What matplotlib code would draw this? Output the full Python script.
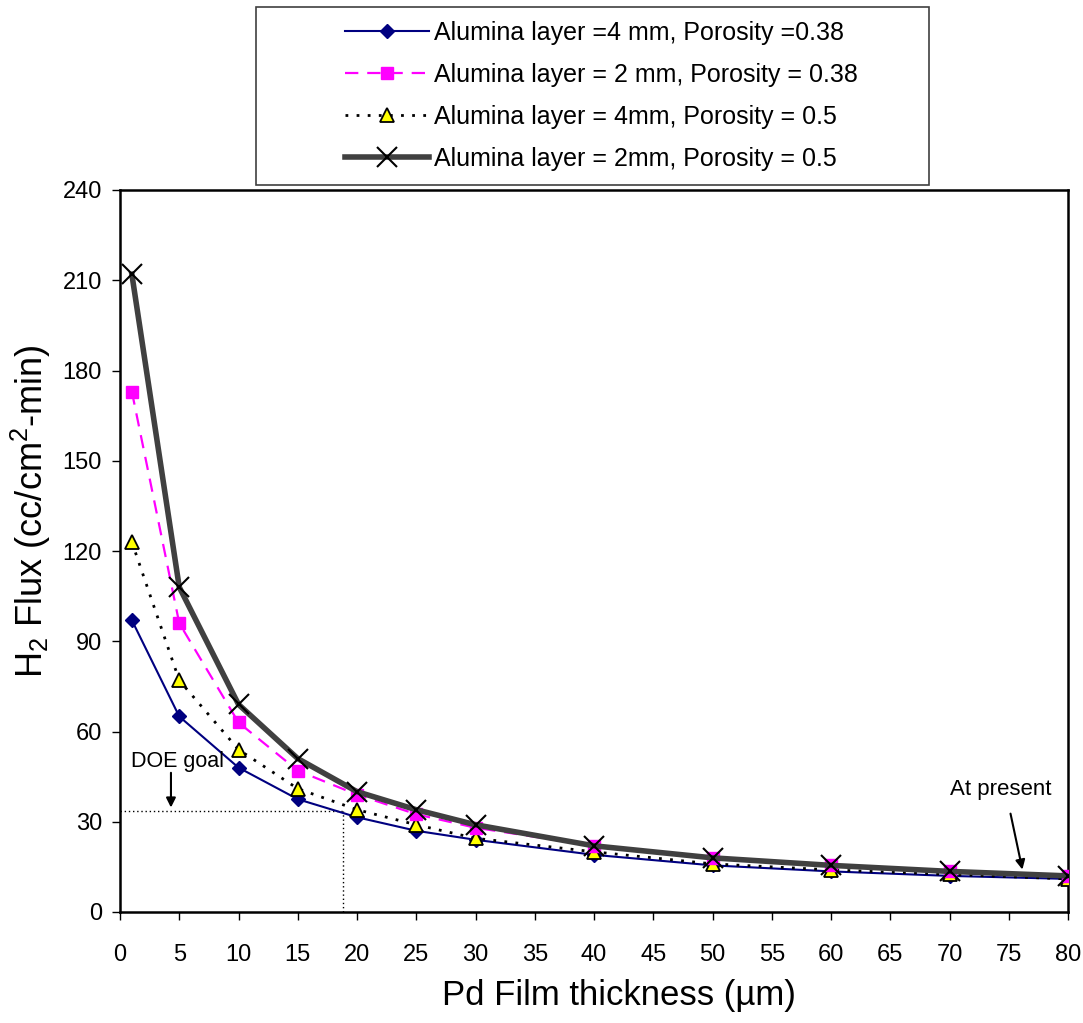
import matplotlib
matplotlib.use('Agg')
import matplotlib.pyplot as plt
from matplotlib.patches import Rectangle
from matplotlib.ticker import MultipleLocator

plt.rcParams['font.family'] = ['Liberation Sans', 'DejaVu Sans']
plt.rcParams['mathtext.default'] = 'regular'

# Pd film thickness (um)
thickness = [1, 5, 10, 15, 20, 25, 30, 40, 50, 60, 70, 80]

# H2 flux (cc/cm2-min)
flux_4mm_038 = [97, 65, 48, 37.5, 31.5, 27, 24, 19, 15.5, 13.5, 12, 11]
flux_2mm_038 = [173, 96, 63, 47, 39, 32.5, 28, 22, 18, 15.5, 13.5, 12]
flux_4mm_05 = [123, 77, 54, 41, 34, 29, 24.5, 20, 16, 14, 12.5, 11]
flux_2mm_05 = [212, 108, 69, 51, 40, 34, 29, 22, 18, 15.5, 13.5, 12]

labels = ['Alumina layer =4 mm, Porosity =0.38',
          'Alumina layer = 2 mm, Porosity = 0.38',
          'Alumina layer = 4mm, Porosity = 0.5',
          'Alumina layer = 2mm, Porosity = 0.5']

doe_goal = 33.6
doe_thick = 18.8

W, H = 1083, 1023
fig = plt.figure(figsize=(W/100, H/100), dpi=100)
ax = fig.add_axes([120/W, 1-912/H, 948/W, 722/H])

h1, = ax.plot(thickness, flux_4mm_038, color='#000080', lw=1.5, marker='D',
              ms=7, mfc='#000080', mec='#000080', label=labels[0], zorder=3)
h2, = ax.plot(thickness, flux_2mm_038, color='#ff00ff', lw=1.6, ls=(0, (6, 4)),
              marker='s', ms=9, mfc='#ff00ff', mec='#ff00ff', label=labels[1], zorder=4)
h3, = ax.plot(thickness, flux_4mm_05, color='black', lw=2, ls=(0, (1, 3)),
              marker='^', ms=10, mfc='#ffff00', mec='black', mew=1.3,
              label=labels[2], zorder=3.5)
h4, = ax.plot(thickness, flux_2mm_05, color='#404040', lw=4, marker='x', ms=15,
              mec='black', mew=1.5, label=labels[3], zorder=5)

# DOE goal guide lines
ax.plot([0, doe_thick], [doe_goal, doe_goal], color='black', lw=1, ls=(0, (1, 2)), zorder=2)
ax.plot([doe_thick, doe_thick], [0, doe_goal], color='black', lw=1, ls=(0, (1, 2)), zorder=2)
ax.text(0.9, 50.0, 'DOE goal', fontsize=15.5, va='center', ha='left')
ax.annotate('', xy=(4.3, 33.8), xytext=(4.3, 47.2),
            arrowprops=dict(arrowstyle='-|>', color='black', lw=1.5, mutation_scale=14))
ax.text(74.3, 40.6, 'At present', fontsize=16, va='center', ha='center')
ax.annotate('', xy=(76.2, 13.2), xytext=(75.1, 33.6),
            arrowprops=dict(arrowstyle='-|>', color='black', lw=1.5, mutation_scale=14))

ax.set_xlim(0, 80)
ax.set_ylim(0, 240)
ax.xaxis.set_major_locator(MultipleLocator(5))
ax.yaxis.set_major_locator(MultipleLocator(30))
ax.tick_params(direction='out', length=6, width=1, labelsize=17)
ax.tick_params(axis='x', pad=17)
ax.tick_params(axis='y', pad=7)
for s in ax.spines.values():
    s.set_linewidth(1.8)

ax.set_xlabel('Pd Film thickness (µm)', fontsize=25)
ax.set_ylabel('H$_2$ Flux (cc/cm$^2$-min)', fontsize=26)
ax.xaxis.set_label_coords((619-120)/948, -0.093)
ax.yaxis.set_label_coords((53-120)/948, 0.555)

# legend frame drawn separately so it can be wider than its entries
fig.patches.append(Rectangle((256/W, 1-185/H), (929-256)/W, 178/H,
                             transform=fig.transFigure, facecolor='white',
                             edgecolor='#404040', lw=1.2, zorder=0))
leg = fig.legend(handles=[h1, h2, h3, h4], loc='upper left',
                 bbox_to_anchor=(345/W, 1-21/H), borderaxespad=0,
                 fontsize=18, frameon=False, handlelength=3.35,
                 labelspacing=0.72, borderpad=0, handletextpad=0.2)

fig.savefig('out.png', dpi=100, facecolor='white')
